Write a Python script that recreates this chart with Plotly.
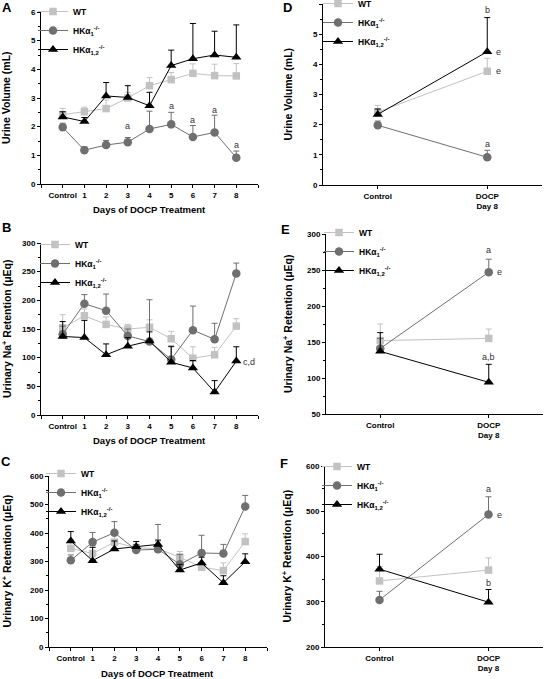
import plotly.graph_objects as go

# ---------------- data ----------------
day_labels = ["Control", "1", "2", "3", "4", "5", "6", "7", "8"]
end_labels = ["Control", "DOCP<br>Day 8"]
series_names = ["WT", "HKα<sub>1</sub><sup>-/-</sup>", "HKα<sub>1,2</sub><sup>-/-</sup>"]

# Urine volume (mL): mean and upper error
urine_wt = [2.42, 2.52, 2.63, 3.00, 3.43, 3.64, 3.86, 3.78, 3.77]
urine_wt_err = [0.22, 0.16, 0.30, 0.20, 0.28, 0.25, 0.33, 0.40, 0.43]
urine_hk1 = [1.98, 1.18, 1.36, 1.46, 1.92, 2.08, 1.64, 1.80, 0.92]
urine_hk1_err = [0.14, 0.12, 0.16, 0.16, 0.62, 0.42, 0.40, 0.60, 0.23]
urine_hk12 = [2.34, 2.18, 3.07, 3.02, 2.73, 4.13, 4.37, 4.50, 4.42]
urine_hk12_err = [0.18, 0.14, 0.47, 0.41, 0.47, 0.54, 1.23, 0.83, 1.13]

# Urinary Na+ retention (uEq)
na_wt = [152, 173, 158, 150, 153, 133, 99, 105, 155]
na_wt_err = [23, 12, 13, 8, 13, 13, 20, 13, 13]
na_hk1 = [141, 194, 182, 138, 128, 97, 148, 132, 247]
na_hk1_err = [14, 16, 29, 12, 73, 22, 42, 28, 18]
na_hk12 = [137, 135, 105, 120, 129, 92, 82, 40, 94]
na_hk12_err = [26, 30, 19, 15, 16, 28, 13, 20, 25]

# Urinary K+ retention (uEq)
k_wt = [346, 328, 368, 348, 345, 315, 280, 268, 370]
k_wt_err = [32, 22, 27, 12, 25, 20, 15, 27, 27]
k_hk1 = [304, 368, 401, 340, 343, 290, 330, 328, 493]
k_hk1_err = [19, 34, 39, 20, 87, 35, 62, 32, 39]
k_hk12 = [372, 303, 344, 352, 360, 270, 295, 225, 299]
k_hk12_err = [33, 47, 28, 18, 15, 20, 20, 25, 28]

# ---------------- styling ----------------
colors = ["#c2c2c2", "#6f6f6f", "#000000"]
symbols = ["square", "circle", "triangle-up"]
msizes = [7.5, 8.5, 9]
FONT = "Liberation Sans, Arial, sans-serif"
W, H = 544, 679


def px_x(a, b):
    return [a / W, b / W]


def px_y(top, bottom):
    return [1 - bottom / H, 1 - top / H]


panels = [
    dict(xd=(41, 258), yd=(12, 184), yr=[0, 6], dt=1, mn=0.5, leg=(33, -3),
         data=[(urine_wt, urine_wt_err), (urine_hk1, urine_hk1_err), (urine_hk12, urine_hk12_err)],
         ytitle="Urine Volume (mL)", ytx=6, letter="A", lxy=(7, 8), full=True),
    dict(xd=(41, 258), yd=(243, 415), yr=[0, 300], dt=50, mn=25, leg=(35, 230),
         data=[(na_wt, na_wt_err), (na_hk1, na_hk1_err), (na_hk12, na_hk12_err)],
         ytitle="Urinary Na<sup>+</sup> Retention (μEq)", ytx=6, letter="B", lxy=(6, 228), full=True),
    dict(xd=(49, 267), yd=(476, 647), yr=[0, 600], dt=100, mn=50, leg=(41, 459),
         data=[(k_wt, k_wt_err), (k_hk1, k_hk1_err), (k_hk12, k_hk12_err)],
         ytitle="Urinary K<sup>+</sup> Retention (μEq)", ytx=6, letter="C", lxy=(6, 461), full=True),
    dict(xd=(323, 542), yd=(4, 185), yr=[0, 6], dt=1, mn=0.5, leg=(318, -11),
         data=[(urine_wt, urine_wt_err), (urine_hk1, urine_hk1_err), (urine_hk12, urine_hk12_err)],
         ytitle="Urine Volume (mL)", ytx=288, letter="D", lxy=(287, 8), full=False),
    dict(xd=(326, 543), yd=(234, 414), yr=[50, 300], dt=50, mn=25, leg=(319, 218),
         data=[(na_wt, na_wt_err), (na_hk1, na_hk1_err), (na_hk12, na_hk12_err)],
         ytitle="Urinary Na<sup>+</sup> Retention (μEq)", ytx=287, letter="E", lxy=(285, 229), full=False),
    dict(xd=(325, 543), yd=(466, 647), yr=[200, 600], dt=100, mn=50, leg=(317, 452),
         data=[(k_wt, k_wt_err), (k_hk1, k_hk1_err), (k_hk12, k_hk12_err)],
         ytitle="Urinary K<sup>+</sup> Retention (μEq)", ytx=286, letter="F", lxy=(284, 463), full=False),
]

fig = go.Figure()
layout = dict(
    width=W, height=H, margin=dict(l=0, r=0, t=0, b=0, autoexpand=False),
    paper_bgcolor="white", plot_bgcolor="white",
    font=dict(family=FONT, color="black"),
    annotations=[],
)

tickfont = dict(family=FONT, size=8, color="black", weight="bold")

for i, p in enumerate(panels):
    n = i + 1
    sfx = "" if n == 1 else str(n)
    xref, yref = "x" + sfx, "y" + sfx
    legname = "legend" + sfx

    if p["full"]:
        xs = list(range(len(day_labels)))
        tickvals = xs
        ticktext = day_labels
        xr = [-1, 9]
        xminor = dict(dtick=1, tick0=-1, ticks="outside", ticklen=3, tickcolor="black", showgrid=False)
    else:
        xs = [0, 1]
        tickvals = [0, 1]
        ticktext = end_labels
        xr = [-0.5, 1.5]
        xminor = None

    for s in range(3):
        vals, errs = p["data"][s]
        if p["full"]:
            yv, ev = vals, errs
        else:
            yv, ev = [vals[0], vals[-1]], [errs[0], errs[-1]]
        fig.add_trace(go.Scatter(
            x=xs, y=yv, name=series_names[s], mode="lines+markers",
            xaxis=xref, yaxis=yref, legend=legname, cliponaxis=False,
            line=dict(color=colors[s], width=1),
            marker=dict(symbol=symbols[s], size=msizes[s], color=colors[s]),
            error_y=dict(type="data", symmetric=False, array=ev,
                         arrayminus=[0] * len(ev), color=colors[s],
                         thickness=1, width=3),
        ))

    xa = dict(
        domain=px_x(*p["xd"]), anchor=yref, range=xr,
        tickmode="array", tickvals=tickvals, ticktext=ticktext,
        showline=True, linecolor="black", linewidth=1, ticks="outside",
        ticklen=3, tickcolor="black", showgrid=False, zeroline=False,
        tickfont=tickfont, fixedrange=True,
    )
    if xminor:
        xa["minor"] = xminor
    layout["xaxis" + sfx] = xa
    layout["yaxis" + sfx] = dict(
        domain=px_y(*p["yd"]), anchor=xref, range=p["yr"], dtick=p["dt"],
        tick0=0, showline=True, linecolor="black", linewidth=1,
        ticks="outside", ticklen=3, tickcolor="black", showgrid=False,
        zeroline=False, tickfont=tickfont, fixedrange=True,
        minor=dict(dtick=p["mn"], ticks="outside", ticklen=2, tickcolor="black", showgrid=False),
    )
    lx, ly = p["leg"]
    layout[legname] = dict(
        x=lx / W, y=1 - ly / H, xanchor="left", yanchor="top",
        bgcolor="rgba(0,0,0,0)", tracegroupgap=0, itemwidth=30,
        font=dict(family=FONT, size=8.5, color="black", weight="bold"),
    )

    # y axis title
    ymid = 1 - (p["yd"][0] + p["yd"][1]) / 2 / H
    layout["annotations"].append(dict(
        text=p["ytitle"], xref="paper", yref="paper", x=p["ytx"] / W, y=ymid,
        textangle=-90, showarrow=False, xanchor="center", yanchor="middle",
        font=dict(family=FONT, size=10.5, color="black", weight="bold"),
    ))
    # x axis title for time-course panels
    if p["full"]:
        ty = {1: 209, 2: 440, 3: 673}[n]
        layout["annotations"].append(dict(
            text="Days of DOCP Treatment", xref="paper", yref="paper",
            x=(p["xd"][0] + 21 + p["xd"][1] - 22) / 2 / W, y=1 - ty / H,
            showarrow=False, xanchor="center", yanchor="middle",
            font=dict(family=FONT, size=9.5, color="black", weight="bold"),
        ))
    # panel letter
    layout["annotations"].append(dict(
        text=p["letter"], xref="paper", yref="paper", x=p["lxy"][0] / W,
        y=1 - p["lxy"][1] / H, showarrow=False, xanchor="center", yanchor="middle",
        font=dict(family=FONT, size=13, color="black", weight="bold"),
    ))

# significance letters (data coordinates)
sig = [
    ("x", "y", 3, 2.02, "a"), ("x", "y", 5, 2.71, "a"), ("x", "y", 6, 2.25, "a"),
    ("x", "y", 7, 2.58, "a"), ("x", "y", 8, 1.35, "a"),
    ("x4", "y4", 1, 5.80, "b"), ("x4", "y4", 1.1, 4.42, "e"),
    ("x4", "y4", 1.1, 3.78, "e"), ("x4", "y4", 1, 1.36, "a"),
    ("x5", "y5", 1, 278, "a"), ("x5", "y5", 1.1, 247, "e"), ("x5", "y5", 1, 129, "a,b"),
    ("x6", "y6", 1, 549, "a"), ("x6", "y6", 1.1, 492, "e"), ("x6", "y6", 1, 341, "b"),
]
for xr_, yr_, xv, yv, t in sig:
    layout["annotations"].append(dict(
        text=t, xref=xr_, yref=yr_, x=xv, y=yv, showarrow=False,
        xanchor="center", yanchor="middle",
        font=dict(family=FONT, size=9, color="#333333"),
    ))
layout["annotations"].append(dict(
    text="c,d", xref="x2", yref="y2", x=8.2, y=92, showarrow=False,
    xanchor="left", yanchor="middle", font=dict(family=FONT, size=9, color="#333333"),
))

fig.update_layout(**layout)
fig.write_html(
    "out.html",
    config={"displayModeBar": False},
    post_script="document.body.style.margin='0';document.body.style.overflow='hidden';",
)
